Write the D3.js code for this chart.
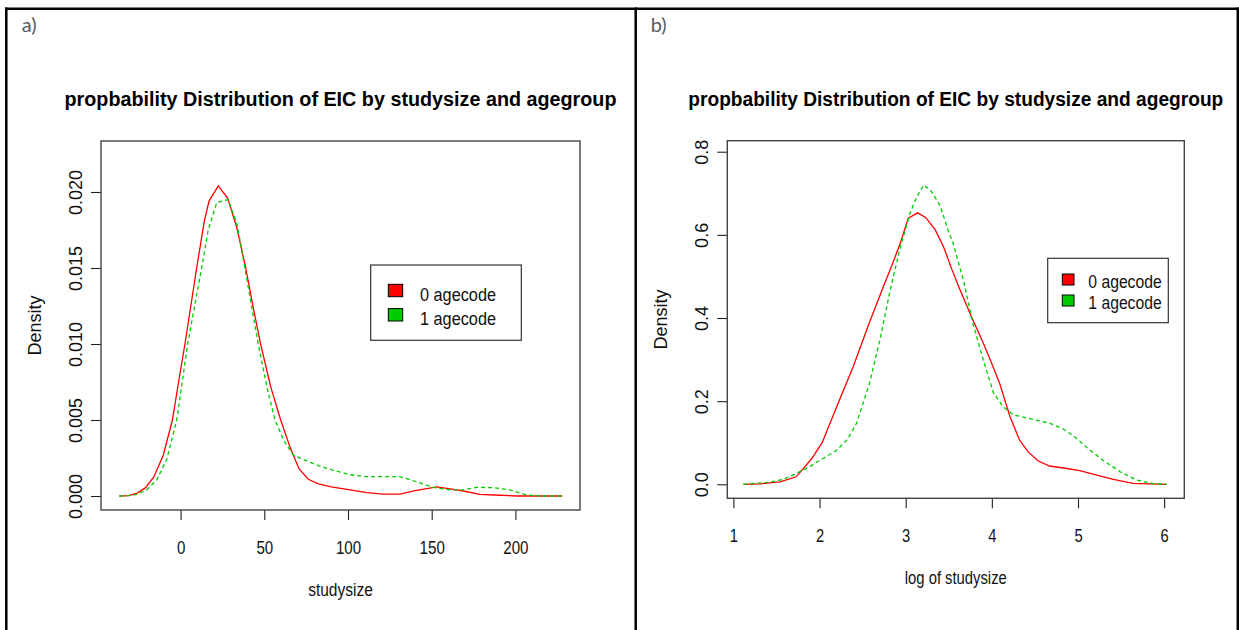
<!DOCTYPE html>
<html>
<head>
<meta charset="utf-8">
<script src="https://cdn.jsdelivr.net/npm/d3@7"></script>
<style>
  body { margin: 0; background: #fff; }
  svg { display: block; }
</style>
</head>
<body>
<svg id="chart" width="1239" height="630"></svg>
<script>
// ---- data -------------------------------------------------------------
const seriesNames = ["0 agecode", "1 agecode"];
const seriesColors = ["#ff0000", "#00cd00"];
const chartTitle = "propbability Distribution of EIC by studysize and agegroup";
const panelTags = ["a)", "b)"];
const xTitles = ["studysize", "log of studysize"];
const yTitle = "Density";

// density of studysize, agecode 0  [studysize, density]
const studysizeAge0 = [
  [-36.6, 0], [-31.2, 0.00002], [-26.2, 0.00018], [-20.9, 0.00055], [-15.9, 0.00127],
  [-10.3, 0.0027], [-4.9, 0.005], [-1.2, 0.0075], [2.6, 0.010], [6.1, 0.0125],
  [9.6, 0.015], [14.2, 0.0181], [17, 0.0194], [22.5, 0.0204], [28.1, 0.0196],
  [33.5, 0.0177], [38.9, 0.015], [43.4, 0.0124], [47.8, 0.010], [53.8, 0.0072],
  [59.8, 0.005], [65.4, 0.0032], [70.7, 0.0018], [76.3, 0.0011], [82.3, 0.0008],
  [90, 0.0006], [101.2, 0.0004], [111.2, 0.00022], [121.1, 0.00013], [131.1, 0.00013],
  [140, 0.00035], [148, 0.0005], [153, 0.0006], [159, 0.0005], [169, 0.00033],
  [178.9, 0.00011], [190.8, 0.00005], [200.8, 0], [228, 0]
];
// density of studysize, agecode 1
const studysizeAge1 = [
  [-36.6, 0], [-31, 0.00002], [-26.2, 0.0001], [-20.3, 0.0004], [-14.3, 0.00105],
  [-8.3, 0.0024], [-2.3, 0.005], [1, 0.0075], [4.2, 0.010], [8.4, 0.0125],
  [12.6, 0.015], [16.5, 0.0175], [21.6, 0.0193], [28.5, 0.0195], [33.9, 0.0178],
  [39.5, 0.0143], [46.4, 0.010], [51.5, 0.0072], [56.4, 0.005], [61.4, 0.0037],
  [67.3, 0.0027], [73.3, 0.0024], [82.3, 0.002], [91, 0.0017], [101.2, 0.0014],
  [111.2, 0.00127], [131.1, 0.00127], [141, 0.00094], [151, 0.00057], [161, 0.0004],
  [169, 0.0004], [176.9, 0.00057], [186.8, 0.00055], [196.8, 0.0004], [206.8, 0.00007],
  [216.7, 0], [228, 0]
];
// density of log(studysize), agecode 0
const logStudysizeAge0 = [
  [1.115, 0], [1.31, 0.001], [1.54, 0.006], [1.73, 0.018], [1.91, 0.062],
  [2.03, 0.10], [2.20, 0.187], [2.39, 0.283], [2.58, 0.39], [2.74, 0.475],
  [2.84, 0.527], [2.93, 0.576], [3.03, 0.64], [3.14, 0.653], [3.23, 0.642],
  [3.34, 0.613], [3.44, 0.571], [3.53, 0.52], [3.63, 0.468], [3.78, 0.395],
  [3.90, 0.34], [3.98, 0.30], [4.09, 0.243], [4.21, 0.163], [4.32, 0.107],
  [4.42, 0.078], [4.54, 0.056], [4.67, 0.044], [4.87, 0.038], [5.02, 0.033],
  [5.22, 0.022], [5.41, 0.012], [5.64, 0.002], [6.03, 0]
];
// density of log(studysize), agecode 1
const logStudysizeAge1 = [
  [1.115, 0], [1.42, 0.005], [1.58, 0.012], [1.73, 0.026], [1.88, 0.042],
  [2.04, 0.062], [2.20, 0.082], [2.32, 0.107], [2.43, 0.147], [2.58, 0.243],
  [2.70, 0.347], [2.82, 0.467], [2.93, 0.564], [3.05, 0.652], [3.13, 0.692],
  [3.21, 0.72], [3.30, 0.704], [3.40, 0.67], [3.49, 0.612], [3.55, 0.58],
  [3.67, 0.491], [3.78, 0.387], [3.90, 0.299], [4.02, 0.219], [4.13, 0.187],
  [4.25, 0.167], [4.48, 0.156], [4.67, 0.147], [4.83, 0.133], [4.98, 0.111],
  [5.14, 0.082], [5.29, 0.058], [5.49, 0.030], [5.68, 0.010], [5.87, 0.002],
  [6.03, 0]
];

const studysizeTicks = [0, 50, 100, 150, 200];
const studysizeDensityTicks = [0, 0.005, 0.010, 0.015, 0.020];
const logStudysizeTicks = [1, 2, 3, 4, 5, 6];
const logDensityTicks = [0, 0.2, 0.4, 0.6, 0.8];

const studysizeDomain = [-47.55, 238.6];
const studysizeDensityDomain = [-0.00092, 0.023355];
const logStudysizeDomain = [0.929, 6.234];
const logDensityDomain = [-0.0337, 0.8265];

// ---- drawing ----------------------------------------------------------
const svg = d3.select("#chart");
const FONT = "'Liberation Sans', Arial, Helvetica, sans-serif";

const panels = [
  {
    tag: panelTags[0], tagX: 21.7,
    box: { x0: 101, x1: 580, y0: 141, y1: 510 },
    xDomain: studysizeDomain, yDomain: studysizeDensityDomain,
    xTicks: studysizeTicks, yTicks: studysizeDensityTicks,
    xFmt: d3.format("d"), yFmt: d3.format(".3f"),
    series: [studysizeAge0, studysizeAge1],
    xTitle: xTitles[0], xTitleWidth: 64.7,
    titleWidth: 552, textScale: 0.84,
    legend: { x0: 370.7, x1: 521.3, y0: 265, y1: 340.3, swX: 388.3, swY: 284.3, swW: 14.4, swH: 12.4,
              rowGap: 24.3, textX: 420, baseY: 300.7, font: 18, textW: 76 }
  },
  {
    tag: panelTags[1], tagX: 650.7,
    box: { x0: 727.3, x1: 1184.3, y0: 140.7, y1: 498.3 },
    xDomain: logStudysizeDomain, yDomain: logDensityDomain,
    xTicks: logStudysizeTicks, yTicks: logDensityTicks,
    xFmt: d3.format("d"), yFmt: d3.format(".1f"),
    series: [logStudysizeAge0, logStudysizeAge1],
    xTitle: xTitles[1], xTitleWidth: 102,
    titleWidth: 535, textScale: 0.82,
    legend: { x0: 1047.7, x1: 1168.3, y0: 258.3, y1: 322.7, swX: 1062.3, swY: 274, swW: 11.7, swH: 11,
              rowGap: 21, textX: 1088.3, baseY: 288.3, font: 17.5, textW: 73.4 }
  }
];

panels.forEach(p => {
  const g = svg.append("g");
  const b = p.box;
  const x = d3.scaleLinear().domain(p.xDomain).range([b.x0, b.x1]);
  const y = d3.scaleLinear().domain(p.yDomain).range([b.y1, b.y0]);

  // panel tag
  g.append("text")
    .attr("x", p.tagX).attr("y", 32)
    .attr("font-family", "Lato, 'Open Sans', sans-serif")
    .attr("font-size", 20).attr("fill", "#595959")
    .text(p.tag);

  // main title
  const cx = (b.x0 + b.x1) / 2;
  g.append("text")
    .attr("x", cx).attr("y", 105.5)
    .attr("text-anchor", "middle")
    .attr("font-family", FONT).attr("font-weight", "bold")
    .attr("font-size", 19.5).attr("fill", "#000")
    .attr("textLength", p.titleWidth).attr("lengthAdjust", "spacingAndGlyphs")
    .text(chartTitle);

  // x axis
  const xAxis = g.append("g")
    .attr("transform", `translate(0,${b.y1})`)
    .call(d3.axisBottom(x).tickValues(p.xTicks).tickFormat(p.xFmt)
      .tickSize(10).tickPadding(21).tickSizeOuter(0));
  xAxis.select(".domain").remove();
  xAxis.selectAll(".tick line").attr("stroke", "#222").attr("stroke-width", 1.1);
  xAxis.selectAll(".tick text")
    .attr("font-family", FONT).attr("font-size", 18).attr("fill", "#111")
    .attr("transform", `scale(${p.textScale},1)`);

  // y axis with rotated labels
  const yAxis = g.append("g")
    .attr("transform", `translate(${b.x0},0)`)
    .call(d3.axisLeft(y).tickValues(p.yTicks).tickFormat(p.yFmt)
      .tickSize(10).tickSizeOuter(0));
  yAxis.select(".domain").remove();
  yAxis.selectAll(".tick line").attr("stroke", "#222").attr("stroke-width", 1.1);
  yAxis.selectAll(".tick text")
    .attr("font-family", FONT).attr("font-size", 18).attr("fill", "#111")
    .attr("text-anchor", "middle")
    .attr("transform", "rotate(-90)")
    .attr("x", 0).attr("y", -19.3).attr("dy", 0);

  // plot frame
  g.append("rect")
    .attr("x", b.x0).attr("y", b.y0)
    .attr("width", b.x1 - b.x0).attr("height", b.y1 - b.y0)
    .attr("fill", "none").attr("stroke", "#444").attr("stroke-width", 1.4);

  // axis titles
  g.append("text")
    .attr("x", cx).attr("y", b.y1 + 86)
    .attr("text-anchor", "middle")
    .attr("font-family", FONT).attr("font-size", 18).attr("fill", "#111")
    .attr("textLength", p.xTitleWidth).attr("lengthAdjust", "spacingAndGlyphs")
    .text(p.xTitle);
  g.append("text")
    .attr("transform", `translate(${b.x0 - 60},${(b.y0 + b.y1) / 2}) rotate(-90)`)
    .attr("text-anchor", "middle")
    .attr("font-family", FONT).attr("font-size", 18).attr("fill", "#111")
    .text(yTitle);

  // density curves
  const line = d3.line().x(d => x(d[0])).y(d => y(d[1]));
  p.series.forEach((s, i) => {
    g.append("path")
      .datum(s)
      .attr("d", line)
      .attr("fill", "none")
      .attr("stroke", seriesColors[i])
      .attr("stroke-width", 1.3)
      .attr("stroke-dasharray", i === 1 ? "4,3" : null);
  });

  // legend
  const L = p.legend;
  g.append("rect")
    .attr("x", L.x0).attr("y", L.y0)
    .attr("width", L.x1 - L.x0).attr("height", L.y1 - L.y0)
    .attr("fill", "#fff").attr("stroke", "#333").attr("stroke-width", 1.2);
  seriesNames.forEach((name, i) => {
    g.append("rect")
      .attr("x", L.swX).attr("y", L.swY + i * L.rowGap)
      .attr("width", L.swW).attr("height", L.swH)
      .attr("fill", seriesColors[i]).attr("stroke", "#000").attr("stroke-width", 1);
    g.append("text")
      .attr("x", L.textX).attr("y", L.baseY + i * L.rowGap)
      .attr("font-family", FONT).attr("font-size", L.font).attr("fill", "#111")
      .attr("textLength", L.textW).attr("lengthAdjust", "spacingAndGlyphs")
      .text(name);
  });
});

// outer frame and divider
const frame = svg.append("g").attr("stroke", "#000").attr("stroke-width", 2.5);
frame.append("line").attr("x1", 5).attr("x2", 1239).attr("y1", 8.7).attr("y2", 8.7);
frame.append("line").attr("x1", 6.3).attr("x2", 6.3).attr("y1", 7.5).attr("y2", 630);
frame.append("line").attr("x1", 635.7).attr("x2", 635.7).attr("y1", 7.5).attr("y2", 630);
frame.append("line").attr("x1", 1237.8).attr("x2", 1237.8).attr("y1", 7.5).attr("y2", 630);
</script>
</body>
</html>
